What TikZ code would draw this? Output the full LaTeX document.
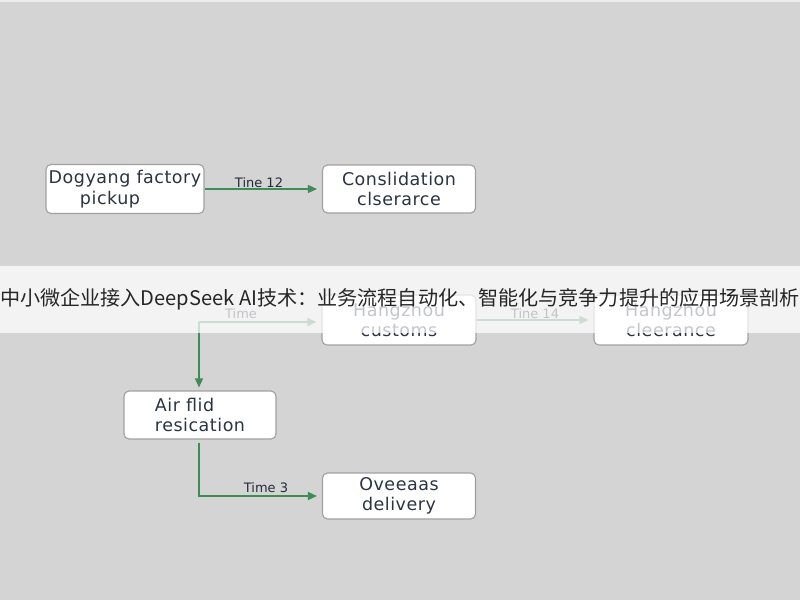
\documentclass[tikz,border=0pt]{standalone}
\usepackage{fontspec}
\setmainfont{DejaVu Sans}
\newfontfamily\cjk{Noto Sans CJK SC}
\usetikzlibrary{arrows.meta}
\definecolor{bgc}{HTML}{D4D4D4}
\definecolor{txtc}{HTML}{2B3443}
\definecolor{linec}{HTML}{3E8C56}
\definecolor{edgec}{HTML}{A0A0A0}
\tikzset{
  box/.style={draw=edgec, line width=1.1pt, fill=white, rounded corners=5pt,
    minimum width=153pt, minimum height=48pt, inner sep=2pt, text=txtc,
    font=\fontsize{17.5}{20.5}\selectfont\addfontfeature{LetterSpace=3}, align=center},
  flow/.style={draw=linec, line width=1.4pt, -{Triangle[length=9pt,width=8pt]}, shorten >=5pt},
  lbl/.style={text=txtc!85!black, font=\fontsize{13}{15}\selectfont, inner sep=0pt},
}
\begin{document}
\begin{tikzpicture}[x=1pt,y=-1pt]
\fill[bgc] (0,0) rectangle (800,600);
\useasboundingbox (0,0) rectangle (800,600);
\fill[black!8] (0,0) rectangle (800,2);

\node[box, minimum width=158pt, minimum height=49pt] (b1) at (125,189) {Dogyang factory\\\hspace*{-30pt}pickup};
\node[box] (b2) at (399,189) {Conslidation\\clserarce};
\node[box, minimum width=154pt, minimum height=50pt] (b3) at (399,320) {Hangzhou\\customs};
\node[box, minimum width=154pt, minimum height=50pt] (b4) at (671,320) {Hangzhou\\cleerance};
\node[box, minimum width=152pt, align=left] (b5) at (200,415) {Air flid\\resication};
\node[box, minimum height=46pt] (b6) at (399,496) {Oveeaas\\delivery};

\draw[flow] (b1.east) -- (b2.west);
\node[lbl] (l1) at (259,183) {Tine 12};

\coordinate (c1) at (199,322);
\draw[flow] (c1) -- (b3.west |- c1);
\draw[flow, shorten >=3pt] (c1) -- (c1 |- b5.north);
\node[lbl] (l2) at (241,314) {Time};

\draw[flow] (b3.east) -- (b4.west);
\node[lbl] (l3) at (535,314) {Tine 14};

\draw[flow] (b5.south -| c1) ++(0,3) |- (b6.west);
\node[lbl] (l4) at (266,488) {Time 3};

\fill[white, opacity=0.72] (0,266) rectangle (800,333);
\node[text=black!85, font=\cjk\fontsize{20.1}{24}\selectfont, inner sep=0pt] (title) at (400,299)
  {中小微企业接入DeepSeek AI技术：业务流程自动化、智能化与竞争力提升的应用场景剖析};
\end{tikzpicture}
\end{document}
